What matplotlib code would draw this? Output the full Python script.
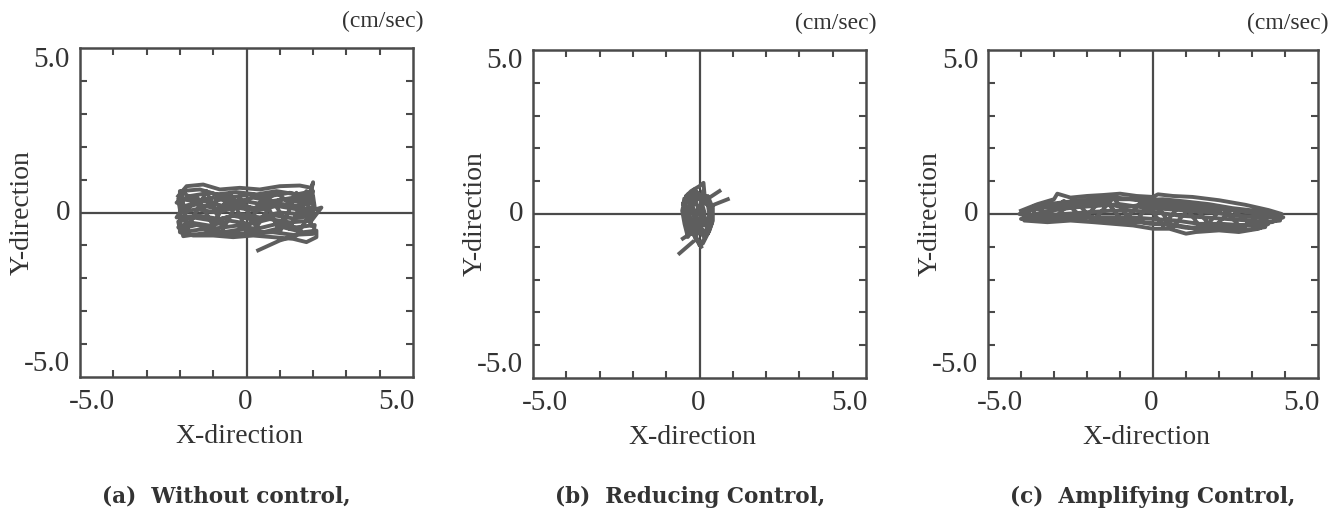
import numpy as np
import matplotlib.pyplot as plt

plt.rcParams['font.family'] = ['Liberation Serif', 'DejaVu Serif']

# (a) without control: velocity orbit (x, y) in cm/sec, traced pass by pass
a_x = [-2.05, -1.8, -1.3, -0.8, -0.2, 0.4, 1.0, 1.6, 1.95, 2.0,
       1.9, 1.3, 0.7, 0.1, -0.5, -1.1, -1.7, -2.1,
       -1.85, -1.3, -0.7, -0.1, 0.5, 1.1, 1.7, 2.0,
       2.05, 1.5, 0.9, 0.3, -0.3, -0.9, -1.5, -2.0,
       -2.1, -1.4, -0.8, -0.2, 0.4, 1.0, 1.6, 2.25,
       1.95, 1.3, 0.7, 0.1, -0.5, -1.1, -1.7, -2.05,
       -1.9, -1.3, -0.7, -0.1, 0.5, 1.1, 1.7, 2.1,
       2.1, 1.8, 1.4, 0.8, 0.2, -0.4, -1.0, -1.6, -2.0,
       -2.0, -1.4, -0.9, -0.3, 0.3, 0.9, 1.5, 2.0,
       1.95, 1.4, 0.8, 0.2, -0.4, -1.0, -1.6, -2.05,
       -2.0, -1.5, -0.9, -0.3, 0.3, 0.9, 1.5, 2.0,
       2.0, 1.4, 0.8, 0.2, -0.4, -1.0, -1.6, -2.05,
       -2.0, -1.5, -0.9, -0.3, 0.3, 0.9, 1.5, 2.05,
       2.0, 1.4, 0.8, 0.2, -0.5, -1.2, -1.9,
       -2.0, -1.5, -1.0, -0.5, 0.0, 0.5, 1.0, 1.5, 1.95,
       1.8, 1.3, 0.8, 0.3, -0.2, -0.7, -1.2, -1.8,
       -1.95, -1.3, -0.6, 0.2, 0.9, 1.4, 1.85, 1.5, 1.0, 0.35]
a_y = [0.5, 0.8, 0.85, 0.7, 0.75, 0.7, 0.8, 0.82, 0.75, 0.92,
       0.45, 0.6, 0.5, 0.55, 0.45, 0.6, 0.5, 0.3,
       0.2, 0.35, 0.2, 0.35, 0.25, 0.4, 0.3, 0.5,
       0.15, 0.1, 0.2, 0.05, 0.15, 0.0, 0.1, 0.0,
       -0.15, -0.1, -0.2, -0.05, -0.15, 0.0, -0.05, 0.15,
       -0.25, -0.3, -0.2, -0.35, -0.25, -0.4, -0.3, -0.45,
       -0.6, -0.5, -0.6, -0.5, -0.6, -0.45, -0.6, -0.55,
       -0.75, -0.9, -0.8, -0.75, -0.7, -0.75, -0.7, -0.7, -0.6,
       0.65, 0.7, 0.55, 0.62, 0.55, 0.65, 0.55, 0.65,
       0.35, 0.45, 0.35, 0.45, 0.3, 0.45, 0.35, 0.42,
       0.1, 0.25, 0.12, 0.25, 0.12, 0.28, 0.2, 0.3,
       -0.1, -0.18, -0.08, -0.22, -0.1, -0.25, -0.15, -0.28,
       -0.5, -0.38, -0.48, -0.4, -0.5, -0.35, -0.45, -0.38,
       -0.65, -0.68, -0.6, -0.62, -0.65, -0.62, -0.72,
       -0.3, 0.5, -0.4, 0.6, -0.55, 0.5, -0.6, 0.6, -0.4,
       0.65, -0.5, 0.35, -0.45, 0.45, -0.5, 0.65, -0.55,
       0.65, 0.15, 0.5, 0.1, 0.6, 0.2, -0.15, -0.7, -0.85, -1.15]

# (b) reducing control
b_x = [0.05, -0.2, -0.35, -0.45, -0.4, -0.25, 0.0, 0.12,
       0.15, 0.25, 0.3, 0.25, 0.15, 0.0,
       -0.1, -0.25, -0.3, -0.3, -0.1,
       0.05, 0.15, 0.1, -0.05,
       -0.15, -0.2, 0.0, 0.2, 0.35, 0.2,
       -0.3, -0.42, -0.15, 0.05,
       -0.35, -0.45, -0.52, -0.45, -0.3, -0.15,
       0.2, 0.4, 0.4, 0.3, 0.1,
       -0.1, -0.2, -0.1, 0.05, 0.1, 0.35, 0.38, 0.25, 0.0, -0.25, -0.4,
       -0.5, -0.35, -0.2, -0.05, 0.1, 0.25, 0.35, 0.3, 0.15, -0.05, -0.2, -0.38,
       -0.3, -0.1, 0.05, 0.2, 0.3, 0.15, -0.05, -0.25, -0.45, np.nan,
       -0.6, -0.2, np.nan, -0.5, -0.2, np.nan,
       0.35, 0.85, np.nan, 0.3, 0.6]
b_y = [-1.0, -0.6, -0.2, 0.2, 0.55, 0.7, 0.85, 0.95,
       0.6, 0.3, -0.05, -0.4, -0.75, -0.95,
       -0.7, -0.35, 0.05, 0.45, 0.65,
       0.4, 0.05, -0.3, -0.6,
       -0.2, 0.25, 0.55, 0.45, 0.15, -0.55,
       -0.5, 0.0, 0.5, -0.1,
       -0.7, -0.3, 0.1, 0.4, 0.6, 0.75,
       0.3, 0.2, -0.2, -0.5, -0.9,
       -0.8, -0.45, 0.1, 0.3, 0.7, 0.05, -0.25, -0.6, -0.4, 0.25, 0.55,
       0.3, 0.6, 0.35, 0.65, 0.4, 0.55, 0.3, -0.1, -0.35, -0.15, -0.55, -0.2,
       0.15, -0.1, 0.2, -0.2, -0.35, -0.7, -0.5, -0.6, 0.45, np.nan,
       -1.2, -0.85, np.nan, -0.75, -0.55, np.nan,
       0.25, 0.45, np.nan, 0.5, 0.7]

# (c) amplifying control
c_x = [-4.0, -3.5, -3.0, -2.9, -2.5, -2.0, -1.5, -1.0, -0.5, 0.0, 0.15, 0.6, 1.2, 2.0, 2.8, 3.5, 3.9,
       3.7, 3.0, 2.3, 1.5, 0.8, 0.1, -0.6, -1.3, -2.0, -2.7, -3.4, -4.05,
       -3.8, -3.1, -2.4, -1.7, -1.0, -0.3, 0.4, 1.1, 1.8, 2.5, 3.2, 3.95,
       3.6, 2.9, 2.2, 1.5, 0.8, 0.1, -0.6, -1.3, -2.0, -2.7, -3.4, -4.0,
       -3.5, -2.8, -2.1, -1.4, -0.7, 0.0, 0.7, 1.4, 2.1, 2.8, 3.5,
       3.2, 2.6, 2.0, 1.3, 1.0, 0.5, 0.0, -0.6, -1.2, -1.8, -2.5, -3.2, -3.9,
       -3.9, -3.2, -2.5, -1.8, -1.1, -0.4, 0.3, 1.0, 1.7, 2.4, 3.1, 3.8,
       3.85, 3.1, 2.4, 1.7, 1.0, 0.3, -0.4, -1.1, -1.8, -2.5, -3.2, -3.9,
       -3.7, -3.0, -2.3, -1.6, -0.9, -0.2, 0.5, 1.2, 1.9, 2.6, 3.3,
       3.4, 2.7, 2.0, 1.3, 0.6, -0.1, -0.8, -1.5, -2.2, -2.9, -3.6,
       -3.6, -3.0, -2.4, -1.8, -1.2, -0.6, 0.0, 0.6, 1.2, 1.8, 2.4, 3.0, 3.6,
       3.3, 2.7, 2.1, 1.5, 0.9, 0.3, -0.3, -0.9, -1.5, -2.1, -2.7, -3.3]
c_y = [0.1, 0.3, 0.45, 0.62, 0.5, 0.55, 0.58, 0.62, 0.55, 0.52, 0.6, 0.55, 0.52, 0.42, 0.28, 0.12, 0.0,
       -0.05, 0.05, 0.15, 0.25, 0.3, 0.4, 0.45, 0.45, 0.4, 0.35, 0.2, 0.0,
       -0.05, 0.1, 0.2, 0.25, 0.3, 0.2, 0.15, 0.1, 0.05, -0.05, -0.1, -0.1,
       -0.25, -0.2, -0.15, -0.1, -0.05, 0.05, 0.1, 0.1, 0.05, 0.0, -0.05, -0.15,
       -0.15, -0.15, -0.1, -0.1, -0.1, -0.15, -0.2, -0.3, -0.3, -0.35, -0.3,
       -0.45, -0.55, -0.5, -0.55, -0.6, -0.45, -0.45, -0.35, -0.3, -0.25, -0.2, -0.25, -0.2,
       0.05, 0.3, 0.38, 0.45, 0.5, 0.42, 0.45, 0.38, 0.3, 0.18, 0.1, -0.05,
       -0.2, -0.28, -0.4, -0.4, -0.42, -0.3, -0.25, -0.2, -0.12, -0.08, 0.0, -0.05,
       0.15, 0.22, 0.3, 0.35, 0.2, 0.3, 0.25, 0.2, 0.15, 0.1, 0.0,
       -0.4, -0.5, -0.42, -0.45, -0.32, -0.3, -0.15, -0.2, 0.0, -0.1, -0.15,
       0.25, -0.15, 0.45, -0.2, 0.5, -0.3, 0.4, -0.4, 0.3, -0.45, 0.15, -0.35, -0.05,
       0.05, -0.45, 0.2, -0.5, 0.35, -0.35, 0.45, -0.25, 0.5, -0.15, 0.4, -0.1]

panels = [(a_x, a_y, "(a)  Without control,"),
          (b_x, b_y, "(b)  Reducing Control,"),
          (c_x, c_y, "(c)  Amplifying Control,")]
boxes = [(80, 48, 333, 329), (533, 50, 333, 328), (988, 50, 330, 328)]
caption_x = [102, 555, 1010]

W, H = 1341, 514
fig = plt.figure(figsize=(W / 100, H / 100), dpi=100)
axcol = "#4a4a4a"
ticks = [-4, -3, -2, -1, 1, 2, 3, 4]

for (xs, ys, cap), (l, t, w, h), cx in zip(panels, boxes, caption_x):
    ax = fig.add_axes([l / W, 1 - (t + h) / H, w / W, h / H])
    ax.set_xlim(-5, 5)
    ax.set_ylim(-5, 5)
    ax.axhline(0, color=axcol, lw=1.6)
    ax.axvline(0, color=axcol, lw=1.6)
    ax.plot(xs, ys, color="#5e5e5e", lw=2.8, solid_joinstyle="round")
    ax.set_xticks(ticks)
    ax.set_yticks(ticks)
    ax.tick_params(direction="in", top=True, right=True, length=5, width=1.5,
                   color=axcol, labelbottom=False, labelleft=False)
    for s in ax.spines.values():
        s.set_color(axcol)
        s.set_linewidth(1.8)
    # tick labels
    fs = 21
    ax.text(-4.65, -5.75, "-5.0", ha="center", va="center", fontsize=fs, color="#333333")
    ax.text(-0.05, -5.75, "0", ha="center", va="center", fontsize=fs, color="#333333")
    ax.text(4.5, -5.75, "5.0", ha="center", va="center", fontsize=fs, color="#333333")
    ax.text(-5.3, 4.65, "5.0", ha="right", va="center", fontsize=fs, color="#333333")
    ax.text(-5.3, 0.0, "0", ha="right", va="center", fontsize=fs, color="#333333")
    ax.text(-5.3, -4.6, "-5.0", ha="right", va="center", fontsize=fs, color="#333333")
    ax.text(-58 / w, 0.5, "Y-direction", transform=ax.transAxes, rotation=90,
            ha="center", va="center", fontsize=20, color="#333333")
    ax.text(0.48, -0.18, "X-direction", transform=ax.transAxes,
            ha="center", va="center", fontsize=20, color="#333333")
    ax.text(1 + 10 / w, 1 + 27 / h, "(cm/sec)", transform=ax.transAxes,
            ha="right", va="center", fontsize=17, color="#333333")
    fig.text(cx / W, 1 - 497 / H, cap, ha="left", va="center", fontsize=15.5,
             fontweight="bold", family="DejaVu Serif", color="#333333")

fig.savefig("out.png", dpi=100, facecolor="white")
